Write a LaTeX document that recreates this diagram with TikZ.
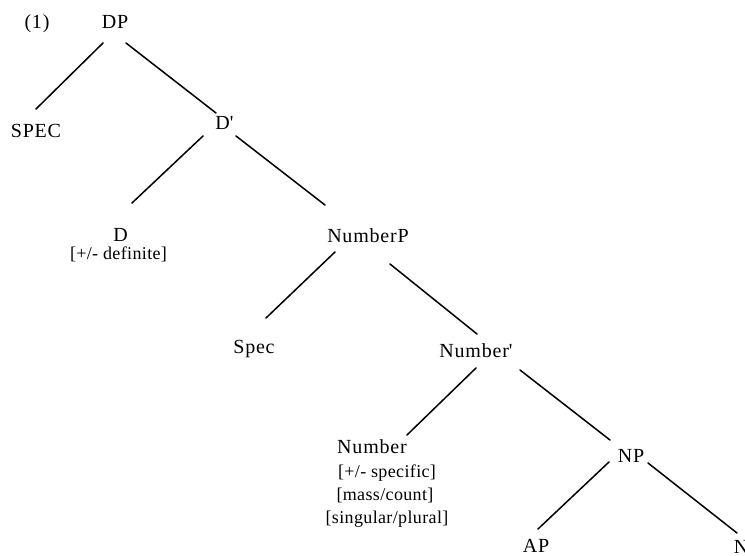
\documentclass[tikz,border=0pt]{standalone}
\usepackage{fontspec}
\setmainfont{Liberation Serif}
\begin{document}
\begin{tikzpicture}[x=1pt,y=-1pt,
  lbl/.style={anchor=base,inner sep=0pt,font=\fontsize{20}{22}\selectfont\addfontfeature{LetterSpace=4}},
  feat/.style={anchor=base,inner sep=0pt,font=\fontsize{18}{20}\selectfont\addfontfeature{LetterSpace=2}},
  branch/.style={line width=1.5pt,line cap=round}]
\useasboundingbox (0,0) rectangle (745,556);
% nodes (placed at centre x, baseline y)
\node[lbl] (ex) at (37,29) {(1)};
\node[lbl] (dp) at (115,29) {DP};
\node[lbl] (spec1) at (36,138) {SPEC};
\node[lbl] (dbar) at (224.5,130) {D\textquotesingle};
\node[lbl] (d) at (120.5,242) {D};
\node[feat] (dfeat) at (118.5,260) {[+/- definite]};
\node[lbl] (numP) at (368,243) {NumberP};
\node[lbl] (spec2) at (254,354) {Spec};
\node[lbl] (numbar) at (476,358) {Number\textquotesingle};
\node[lbl] (num) at (372,453) {Number};
\node[feat] (f1) at (387,477) {[+/- specific]};
\node[feat] (f2) at (385,500) {[mass/count]};
\node[feat] (f3) at (387,523) {[singular/plural]};
\node[lbl] (np) at (631,462) {NP};
\node[lbl] (ap) at (536,552) {AP};
\node[lbl] (n) at (741,553) {N};
% branches
\draw[branch] ([shift={(-12,14)}]dp.base) -- ([shift={(0,-29)}]spec1.base);
\draw[branch] ([shift={(11,14)}]dp.base) -- ([shift={(-8.5,-17)}]dbar.base);
\draw[branch] ([shift={(-21.5,6)}]dbar.base) -- ([shift={(11.5,-39)}]d.base);
\draw[branch] ([shift={(11.5,6)}]dbar.base) -- ([shift={(-43,-38)}]numP.base);
\draw[branch] ([shift={(-33,9)}]numP.base) -- ([shift={(12,-36)}]spec2.base);
\draw[branch] ([shift={(22,21)}]numP.base) -- ([shift={(1,-24)}]numbar.base);
\draw[branch] ([shift={(0,10)}]numbar.base) -- ([shift={(35,-18)}]num.base);
\draw[branch] ([shift={(44,12)}]numbar.base) -- ([shift={(-21,-22)}]np.base);
\draw[branch] ([shift={(-22,0)}]np.base) -- ([shift={(2,-23)}]ap.base);
\draw[branch] ([shift={(17,1)}]np.base) -- ([shift={(-4,-20)}]n.base);
\end{tikzpicture}
\end{document}
